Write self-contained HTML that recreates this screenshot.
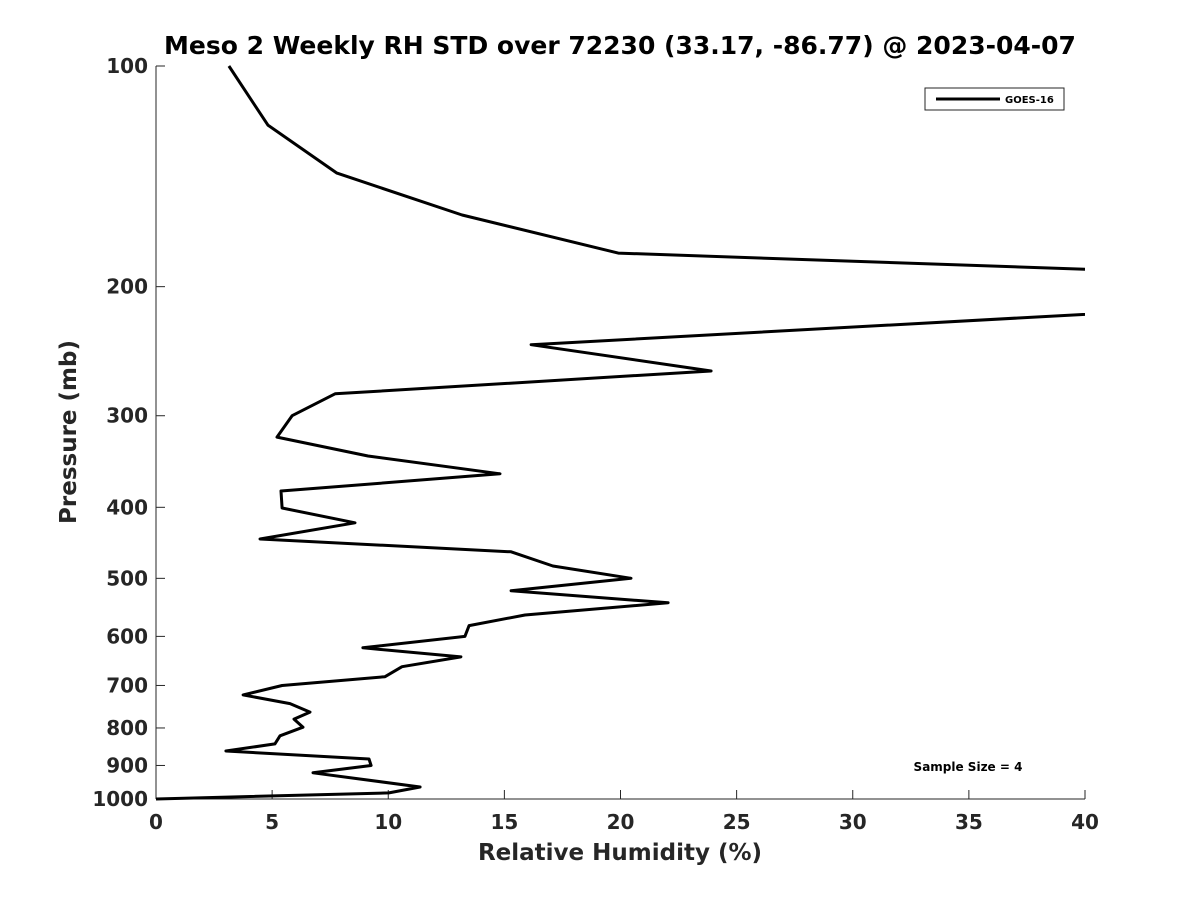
<!DOCTYPE html>
<html><head><meta charset="utf-8"><style>
body{margin:0;background:#fff;}
svg text{font-family:"DejaVu Sans","Liberation Sans",sans-serif;font-weight:bold;fill:#262626;}
</style></head><body>
<svg id="chart" width="1200" height="900" xmlns="http://www.w3.org/2000/svg">
<rect width="1200" height="900" fill="#fff"/>
<text x="620" y="54" font-size="25" text-anchor="middle" style="fill:#000">Meso 2 Weekly RH STD over 72230 (33.17, -86.77) @ 2023-04-07</text>
<g id="axes"></g>
<defs><clipPath id="clip"><rect x="156" y="60" width="929" height="745"/></clipPath></defs>
<path id="line" fill="none" stroke="#000" stroke-width="3" stroke-linejoin="round" clip-path="url(#clip)"/>
<text x="620" y="860" font-size="23" text-anchor="middle">Relative Humidity (%)</text>
<text transform="translate(76,432) rotate(-90)" font-size="23" text-anchor="middle">Pressure (mb)</text>
<g>
<rect x="925" y="88" width="139" height="22" fill="#fff" stroke="#262626" stroke-width="1"/>
<line x1="936" y1="99" x2="1000" y2="99" stroke="#000" stroke-width="3"/>
<text x="1005" y="103" font-size="10" style="fill:#000">GOES-16</text>
</g>
<text x="968" y="771" font-size="12" text-anchor="middle" style="fill:#000">Sample Size = 4</text>
</svg>
<script>
const xTicks=[0,5,10,15,20,25,30,35,40];
const yTicks=[100,200,300,400,500,600,700,800,900,1000];
const rh=[3.14,4.82,7.79,13.18,19.9,61.7,16.15,23.9,7.71,5.86,5.21,9.13,14.81,5.38,5.43,8.57,4.48,15.29,17.09,20.45,15.29,22.05,15.89,13.48,13.3,8.91,13.13,10.59,9.86,5.43,3.75,5.77,6.63,5.94,6.33,5.34,5.12,3.01,9.17,9.26,6.76,11.37,10.03,0];
const pres=[100,120.4,140,159.7,180,200,240,260.7,280,300,320.8,340.5,360,380,400.9,420,441.9,460,481,500,520,540,561,580,600,622,640,660,681,700,721,741,761,778,798,820,841,860,882,900,921,963,981,1000];
const X0=156,X1=1085,Y0=66,Y1=799;
const xs=v=>X0+(v-0)/(40-0)*(X1-X0);
const ys=p=>Y0+Math.log10(p/100)*(Y1-Y0);
const ns="http://www.w3.org/2000/svg";
const ax=document.getElementById('axes');
function mk(t,a){const e=document.createElementNS(ns,t);for(const k in a)e.setAttribute(k,a[k]);ax.appendChild(e);return e;}
let e=mk('line',{x1:X0,y1:Y0,x2:X0,y2:Y1,stroke:'#262626','stroke-width':1});


e=mk('line',{x1:X0,y1:Y1,x2:X1,y2:Y1,stroke:'#262626','stroke-width':1});


xTicks.forEach(v=>{
 const x=xs(v);
 let t=mk('line',{x1:x,y1:Y1,x2:x,y2:Y1-9,stroke:'#262626'});
 
 
 let l=mk('text',{x:x,y:Y1+30,'font-size':20,'text-anchor':'middle'});
 l.textContent=v;
 
 
});
yTicks.forEach(p=>{
 const y=ys(p);
 let t=mk('line',{x1:X0,y1:y,x2:X0+9,y2:y,stroke:'#262626'});
 
 
 let l=mk('text',{x:X0-8,y:y+7,'font-size':20,'text-anchor':'end'});
 l.textContent=p;
 
 
});
document.getElementById('line').setAttribute('d',rh.map((v,i)=>(i?'L':'M')+xs(v).toFixed(1)+','+ys(pres[i]).toFixed(1)).join(''));
</script>
</body></html>
